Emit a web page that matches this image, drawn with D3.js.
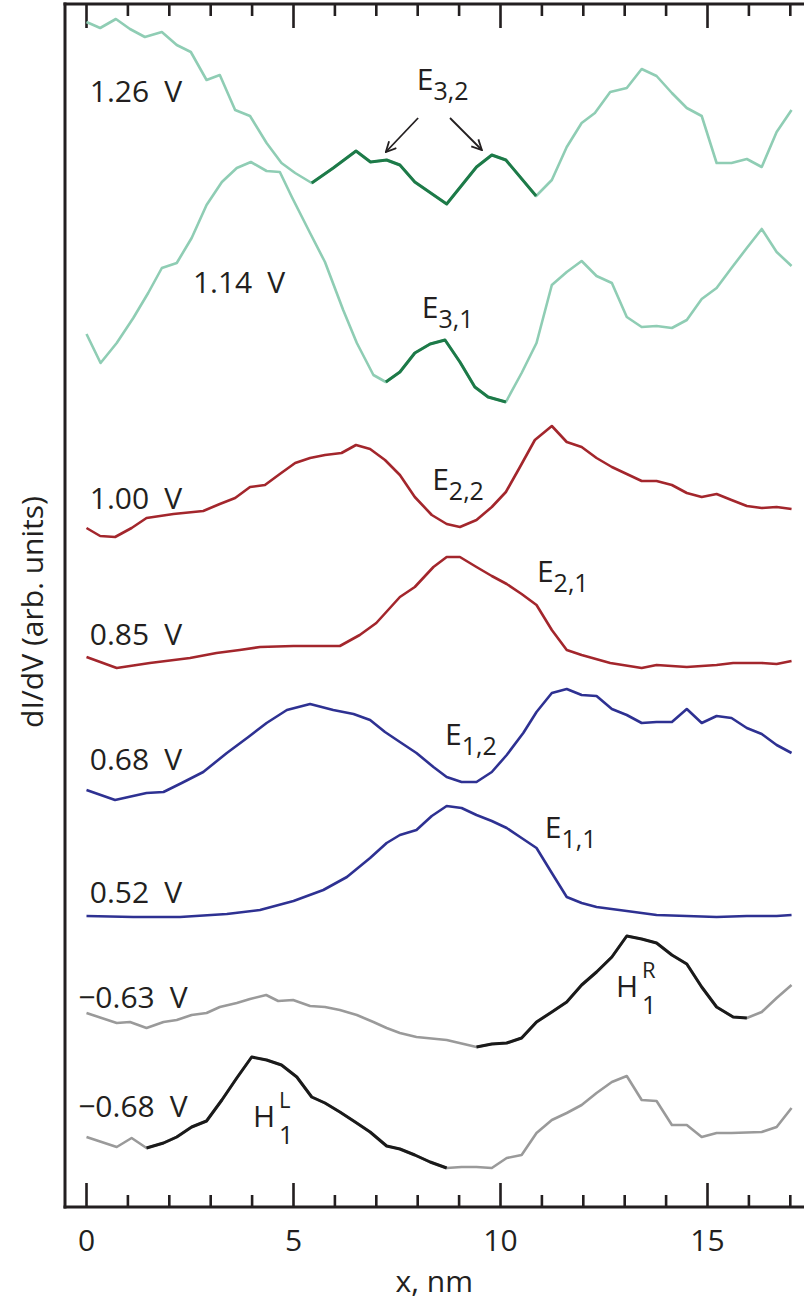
<!DOCTYPE html>
<html>
<head>
<meta charset="utf-8">
<script src="https://cdn.jsdelivr.net/npm/d3@7"></script>
<style>
  body { margin: 0; background: #fff; }
  svg { display: block; }
  text { font-family: "Open Sans", sans-serif; fill: #231f20; }
</style>
</head>
<body>
<svg id="chart" width="804" height="1303"></svg>
<script>
// x positions (nm) and dI/dV values (arb. units, offset per bias)
var x126 = [0,0.33,0.71,1.05,1.41,1.82,2.18,2.52,2.9,3.22,3.59,3.95,4.35,4.71,5.04,5.44,5.96,6.51,6.86,7.25,7.57,7.93,8.7,9.42,9.79,10.13,10.86,11.24,11.6,11.96,12.28,12.65,13.05,13.41,13.77,14.14,14.5,14.86,15.22,15.58,15.95,16.31,16.67,17.03];
var y126 = [118.5,117.9,118.8,117.8,117.0,117.5,116.2,115.5,112.7,113.2,109.7,109.1,106.4,104.4,103.4,102.4,103.9,105.6,104.5,104.7,104.2,102.5,100.3,104.0,105.2,104.7,101.1,102.7,106.0,108.4,109.4,111.5,111.9,113.8,113.1,111.4,109.9,109.1,104.4,104.4,104.8,104.0,107.5,109.7];

var x114 = [0,0.34,0.73,1.13,1.49,1.82,2.18,2.54,2.9,3.27,3.63,3.97,4.35,4.67,4.96,5.4,5.76,6.2,6.53,6.93,7.23,7.57,7.93,8.3,8.66,9.02,9.38,9.7,10.13,10.51,10.87,11.24,11.6,11.96,12.32,12.69,13.05,13.41,13.77,14.14,14.5,14.86,15.22,15.58,15.95,16.31,16.67,17.03];
var y114 = [87.3,84.4,86.4,88.9,91.4,93.9,94.4,96.9,100.2,102.5,103.9,104.5,103.6,103.5,101.0,97.4,94.5,89.7,86.4,83.2,82.5,83.5,85.4,86.3,86.7,84.5,82.0,81.0,80.5,83.4,86.4,92.2,93.5,94.6,93.1,92.4,89.0,88.0,88.1,87.9,88.7,90.8,91.9,93.9,95.9,97.8,95.5,94.1];

var x100 = [0,0.33,0.69,1.09,1.45,2.1,2.82,3.22,3.59,3.95,4.31,4.67,5.04,5.4,5.76,6.16,6.51,6.85,7.21,7.57,7.93,8.34,8.7,9.02,9.42,9.79,10.13,10.47,10.83,11.24,11.6,11.96,12.32,12.69,13.05,13.41,13.77,14.14,14.5,14.86,15.22,15.58,15.95,16.31,16.67,17.03];
var y100 = [67.9,67.1,67.0,67.9,68.9,69.3,69.6,70.3,70.9,72.0,72.2,73.3,74.4,74.9,75.2,75.4,76.2,75.8,74.7,73.2,71.0,69.2,68.3,68.0,68.7,70.0,71.5,74.0,76.7,78.1,76.5,76.0,74.9,74.0,73.3,72.6,72.6,72.2,71.4,71.0,71.3,70.7,70.1,69.9,70.0,69.8];

var x085 = [0,0.73,1.53,2.5,3.14,3.7,4.19,5.0,6.12,6.6,7.0,7.57,7.93,8.38,8.7,9.02,9.42,9.79,10.15,10.51,10.87,11.24,11.6,11.96,12.65,13.41,13.77,14.5,15.22,15.62,16.31,16.67,17.03];
var y085 = [55.0,53.9,54.4,54.9,55.4,55.7,56.0,56.1,56.1,57.2,58.4,61.0,62.0,64.0,65.0,65.0,64.0,63.1,62.3,61.3,60.2,57.7,55.7,55.2,54.4,53.9,54.2,54.0,54.2,54.4,54.4,54.3,54.6];

var x068 = [0,0.69,1.45,1.86,2.3,2.82,3.39,3.91,4.35,4.84,5.4,5.96,6.45,6.85,7.21,7.57,7.97,8.38,8.7,9.06,9.42,9.79,10.15,10.55,10.87,11.24,11.6,11.96,12.32,12.69,13.05,13.41,13.77,14.14,14.5,14.86,15.22,15.58,15.95,16.31,16.67,17.03];
var y068 = [41.7,40.7,41.4,41.5,42.4,43.5,45.4,47.0,48.4,49.7,50.3,49.7,49.3,48.7,47.5,46.5,45.4,44.0,43.0,42.5,42.5,43.5,45.2,47.4,49.5,51.4,51.8,51.2,51.1,49.8,49.2,48.4,48.5,48.5,49.8,48.4,49.1,48.9,47.9,47.3,46.2,45.4];

var x052 = [0,1.13,2.26,3.39,4.19,5.0,5.72,6.29,6.85,7.25,7.57,7.97,8.34,8.7,9.06,9.42,9.79,10.15,10.51,10.87,11.24,11.6,11.96,12.32,13.05,13.77,14.5,15.22,15.95,16.67,17.03];
var y052 = [29.1,29.0,29.0,29.3,29.7,30.6,31.7,33.0,34.9,36.4,37.2,37.7,39.1,40.1,39.9,39.2,38.6,37.9,36.9,35.9,33.4,31.0,30.4,30.0,29.6,29.2,29.1,29.0,29.1,29.1,29.2];

var xm063 = [0,0.73,1.05,1.45,1.86,2.18,2.54,2.9,3.22,3.63,3.95,4.34,4.63,4.99,5.4,5.76,6.12,6.53,6.93,7.25,7.57,7.97,8.7,9.42,9.79,10.15,10.51,10.87,11.24,11.6,11.96,12.32,12.69,13.05,13.41,13.77,14.14,14.5,14.86,15.22,15.62,15.95,16.31,16.67,17.03];
var ym063 = [19.4,18.4,18.5,17.9,18.5,18.7,19.2,19.4,20.0,20.4,20.8,21.2,20.6,20.7,20.1,20.0,19.7,19.2,18.5,17.9,17.4,17.0,16.7,16.0,16.3,16.4,16.9,18.5,19.5,20.5,22.2,23.5,25.0,27.1,26.8,26.4,25.2,24.3,22.0,20.0,19.0,18.9,19.5,20.9,22.2];

var xm068 = [0,0.73,1.09,1.45,1.86,2.18,2.54,2.9,3.27,3.63,3.99,4.35,4.71,5.08,5.44,5.76,6.12,6.49,6.85,7.25,7.57,7.93,8.3,8.7,9.06,9.42,9.79,10.15,10.51,10.87,11.24,11.6,11.96,12.32,12.69,13.05,13.41,13.77,14.14,14.5,14.86,15.22,15.58,16.31,16.67,17.03];
var ym068 = [7.0,6.0,6.9,5.9,6.4,7.0,8.0,8.6,10.7,12.9,15.0,14.7,14.2,13.0,11.0,10.4,9.5,8.5,7.5,6.1,5.8,5.2,4.5,3.9,4.0,4.0,3.9,4.9,5.2,7.4,8.7,9.4,10.2,11.4,12.5,13.1,10.7,10.6,8.2,8.2,7.0,7.4,7.4,7.5,8.0,9.9];

var biasLabels = ["1.26", "1.14", "1.00", "0.85", "0.68", "0.52", "\u22120.63", "\u22120.68"];
// highlighted x-range of each trace (nm)
var highlights = [[5.44, 10.86], [7.23, 10.13], null, null, null, null, [9.42, 15.95], [1.45, 8.7]];
var majorTicks = [0, 5, 10, 15];
var minorTicks = [1,2,3,4,6,7,8,9,11,12,13,14,16,17];

var curves = [
  {xs: x126, ys: y126, color: "#8fcdb4", dark: "#1d7a48", lx: 0.08, ly: 110.5},
  {xs: x114, ys: y114, color: "#8fcdb4", dark: "#1d7a48", lx: 2.57, ly: 91.4},
  {xs: x100, ys: y100, color: "#a3262c", dark: "#a3262c", lx: 0.08, ly: 69.8},
  {xs: x085, ys: y085, color: "#a3262c", dark: "#a3262c", lx: 0.08, ly: 56.2},
  {xs: x068, ys: y068, color: "#2e3192", dark: "#2e3192", lx: 0.08, ly: 43.7},
  {xs: x052, ys: y052, color: "#2e3192", dark: "#2e3192", lx: 0.08, ly: 30.4},
  {xs: xm063, ys: ym063, color: "#9a9a9a", dark: "#1a1a1a", lx: -0.2, ly: 19.9},
  {xs: xm068, ys: ym068, color: "#9a9a9a", dark: "#1a1a1a", lx: -0.2, ly: 9.0}
];

var svg = d3.select("#chart");
var leftX = 65, topY = 4, bottomY = 1207, rightX = 804;

var x = d3.scaleLinear().domain([0, 17]).range([86.5, 86.5 + 17 * 41.4]);
var y = d3.scaleLinear().domain([0, 120]).range([1207, 7]);

// ticks on top and bottom edges, pointing inward, drawn as thin filled bars
var tickW = 2.6;
function tickBars(vals, len, cls){
  var g = svg.append("g").attr("class", cls);
  g.selectAll("rect.top").data(vals).enter().append("rect").attr("class", "top")
    .attr("x", function(d){ return x(d) - tickW / 2; }).attr("y", topY)
    .attr("width", tickW).attr("height", len).attr("fill", "#231f20");
  g.selectAll("rect.bot").data(vals).enter().append("rect").attr("class", "bot")
    .attr("x", function(d){ return x(d) - tickW / 2; }).attr("y", bottomY - len)
    .attr("width", tickW).attr("height", len).attr("fill", "#231f20");
}
tickBars(minorTicks, 12, "minor");
tickBars(majorTicks, 24, "major");

var line = d3.line().x(function(d){ return x(d[0]); }).y(function(d){ return y(d[1]); });

curves.forEach(function(c, i){
  var pts = c.xs.map(function(v, j){ return [v, c.ys[j]]; });
  svg.append("path").attr("d", line(pts))
    .attr("fill", "none").attr("stroke", c.color).attr("stroke-width", 2.6)
    .attr("stroke-linejoin", "round");
  var h = highlights[i];
  if(h){
    var sub = pts.filter(function(p){ return p[0] >= h[0] - 0.001 && p[0] <= h[1] + 0.001; });
    svg.append("path").attr("d", line(sub))
      .attr("fill", "none").attr("stroke", c.dark).attr("stroke-width", 3)
      .attr("stroke-linejoin", "round");
  }
  svg.append("text").attr("x", x(c.lx)).attr("y", y(c.ly))
    .attr("font-size", 30).text(biasLabels[i] + "\u2002V");
});

// frame
svg.append("line").attr("x1", leftX).attr("x2", leftX).attr("y1", topY - 1.5).attr("y2", bottomY + 1.5)
  .attr("stroke", "#231f20").attr("stroke-width", 3);
svg.append("line").attr("x1", leftX - 1.5).attr("x2", rightX).attr("y1", topY).attr("y2", topY)
  .attr("stroke", "#231f20").attr("stroke-width", 3);
svg.append("line").attr("x1", leftX - 1.5).attr("x2", rightX).attr("y1", bottomY).attr("y2", bottomY)
  .attr("stroke", "#231f20").attr("stroke-width", 3);

svg.append("g").selectAll("text").data(majorTicks).enter().append("text")
  .attr("x", function(d){ return x(d); }).attr("y", 1251)
  .attr("text-anchor", "middle").attr("font-size", 30)
  .text(function(d){ return d; });

svg.append("text").attr("x", x(8.4)).attr("y", 1292).attr("text-anchor", "middle")
  .attr("font-size", 30).text("x, nm");

svg.append("text").attr("transform", "translate(43,612) rotate(-90)")
  .attr("text-anchor", "middle").attr("font-size", 30).text("dI/dV (arb. units)");

// state annotations
var eLabels = [
  {main: "E", sub: "3,2", lx: 7.98, ly: 111.7},
  {main: "E", sub: "3,1", lx: 8.1, ly: 88.9},
  {main: "E", sub: "2,2", lx: 8.35, ly: 71.7},
  {main: "E", sub: "2,1", lx: 10.88, ly: 62.5},
  {main: "E", sub: "1,2", lx: 8.66, ly: 46.2},
  {main: "E", sub: "1,1", lx: 11.07, ly: 36.9}
];
eLabels.forEach(function(e){
  var t = svg.append("text").attr("x", x(e.lx)).attr("y", y(e.ly)).attr("font-size", 30);
  t.append("tspan").text(e.main);
  t.append("tspan").attr("dy", 10).attr("font-size", 25).text(e.sub);
});

var hLabels = [
  {sup: "R", lx: 12.79, ly: 21.0},
  {sup: "L", lx: 4.02, ly: 8.0}
];
hLabels.forEach(function(h){
  var hx = x(h.lx), hy = y(h.ly);
  svg.append("text").attr("x", hx).attr("y", hy).attr("font-size", 30).text("H");
  svg.append("text").attr("x", hx + 26).attr("y", hy - 19).attr("font-size", 22).text(h.sup);
  svg.append("text").attr("x", hx + 26).attr("y", hy + 17).attr("font-size", 25).text("1");
});

// arrows to E3,2
var defs = svg.append("defs");
defs.append("marker").attr("id", "arr").attr("viewBox", "0 0 12 12")
  .attr("refX", 11).attr("refY", 6).attr("markerWidth", 12).attr("markerHeight", 12)
  .attr("markerUnits", "userSpaceOnUse").attr("orient", "auto")
  .append("path").attr("d", "M1,1 L11,6 L1,11").attr("fill", "none")
  .attr("stroke", "#231f20").attr("stroke-width", 1.8);

var arrows = [[8.01, 108.9, 7.23, 105.5], [8.78, 108.9, 9.55, 105.7]];
arrows.forEach(function(a){
  svg.append("line").attr("x1", x(a[0])).attr("y1", y(a[1])).attr("x2", x(a[2])).attr("y2", y(a[3]))
    .attr("stroke", "#231f20").attr("stroke-width", 1.8).attr("marker-end", "url(#arr)");
});
</script>
</body>
</html>
